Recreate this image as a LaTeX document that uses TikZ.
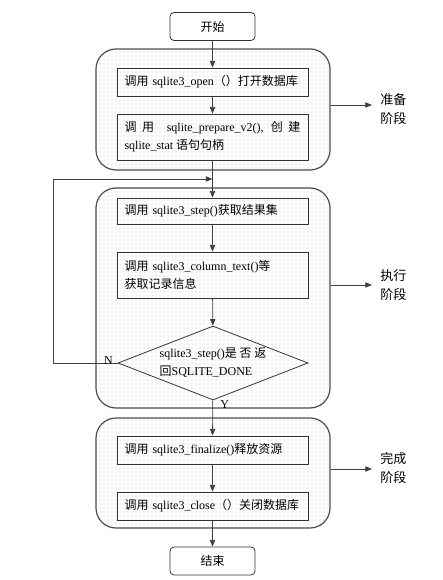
\documentclass[tikz,border=0pt]{standalone}
\usepackage{fontspec}
\setmainfont{Liberation Serif}
\newfontfamily\cjk{Noto Sans CJK SC}
\usetikzlibrary{shapes.geometric,arrows.meta,patterns}
\newcommand\zhs[1]{{\cjk #1}}
\begin{document}
\begin{tikzpicture}[x=0.75pt,y=-0.75pt,
  txt/.style={font=\fontsize{9}{13.5}\selectfont},
  group/.style={draw=black!70, line width=0.9pt, rounded corners=15pt, pattern=dots, pattern color=black!25, minimum width=175.5pt, inner sep=0pt},
  stepbox/.style={txt, draw=black!80, line width=0.6pt, minimum width=143.25pt, text width=132pt, inner xsep=5.6pt, inner ysep=2pt, align=left},
  term/.style={txt, draw=black!80, fill=white, line width=0.6pt, rounded corners=3pt, minimum width=63.75pt, minimum height=21pt, inner sep=0pt},
  decide/.style={txt, diamond, draw=black!80, line width=0.6pt, aspect=2.57, minimum width=142.5pt, minimum height=55.5pt, inner sep=0pt, align=left},
  flow/.style={draw=black!75, line width=0.6pt, -{Triangle[length=5pt,width=4pt]}},
  phase/.style={font=\cjk\fontsize{9.8}{14}\selectfont, align=left, anchor=west, inner sep=0pt},
  yn/.style={txt, inner sep=0pt}]
\useasboundingbox (0,0) rectangle (442,580);
% groups
\node[group, minimum height=90.75pt] (g1) at (213,109.5) {};
\node[group, minimum height=165pt] (g2) at (213,298) {};
\node[group, minimum height=82.5pt] (g3) at (213,473) {};
% nodes
\node[term] (start) at (212.5,26.5) {\zhs{开始}};
\node[stepbox, minimum height=21pt] (open) at (212.5,82) {\zhs{调用}~sqlite3\_open\zhs{（）打开数据库}};
\node[stepbox, minimum height=34.5pt, align=justify] (prep) at (212.5,137) {\zhs{调 用} \ sqlite\_prepare\_v2(), \zhs{创 建} sqlite\_stat \zhs{语句句柄}};
\node[stepbox, minimum height=19.5pt] (step) at (212.5,211) {\zhs{调用}~sqlite3\_step()\zhs{获取结果集}};
\node[stepbox, minimum height=34.5pt] (col) at (212.5,275) {\zhs{调用}~sqlite3\_column\_text()\zhs{等}\\\zhs{获取记录信息}};
\node[decide] (dec) at (213,363) {sqlite3\_step()\zhs{是 否 返}\\\zhs{回}SQLITE\_DONE};
\node[stepbox, minimum height=21pt] (fin) at (212.5,450) {\zhs{调用}~sqlite3\_finalize()\zhs{释放资源}};
\node[stepbox, minimum height=21pt] (close) at (212.5,506) {\zhs{调用}~sqlite3\_close\zhs{（）关闭数据库}};
\node[term] (end) at (212.5,561) {\zhs{结束}};
% main flow
\draw[flow] (start) -- (open);
\draw[flow] (open) -- (prep);
\draw[flow] (prep) -- (step);
\draw[flow] (step) -- (col);
\draw[flow] (col) -- (dec);
\draw[flow] (dec) -- (fin);
\draw[flow] (fin) -- (close);
\draw[flow] (close) -- (end);
% loop
\coordinate (join) at (212.5,179);
\coordinate (lc) at (53,363);
\draw[flow] (dec.west) -- (lc) |- (join);
\node[yn, anchor=east] (nlab) at (113,361) {N};
\node[yn, anchor=west] (ylab) at (220,405) {Y};
% phase labels
\coordinate (a1) at (372,105);
\coordinate (a2) at (372,285);
\coordinate (a3) at (372,469);
\draw[flow] (a1 -| g1.east) -- (a1);
\draw[flow] (a2 -| g2.east) -- (a2);
\draw[flow] (a3 -| g3.east) -- (a3);
\node[phase] (p1) at (380,109) {准备\\阶段};
\node[phase] (p2) at (380,285) {执行\\阶段};
\node[phase] (p3) at (380,468) {完成\\阶段};
\end{tikzpicture}
\end{document}
